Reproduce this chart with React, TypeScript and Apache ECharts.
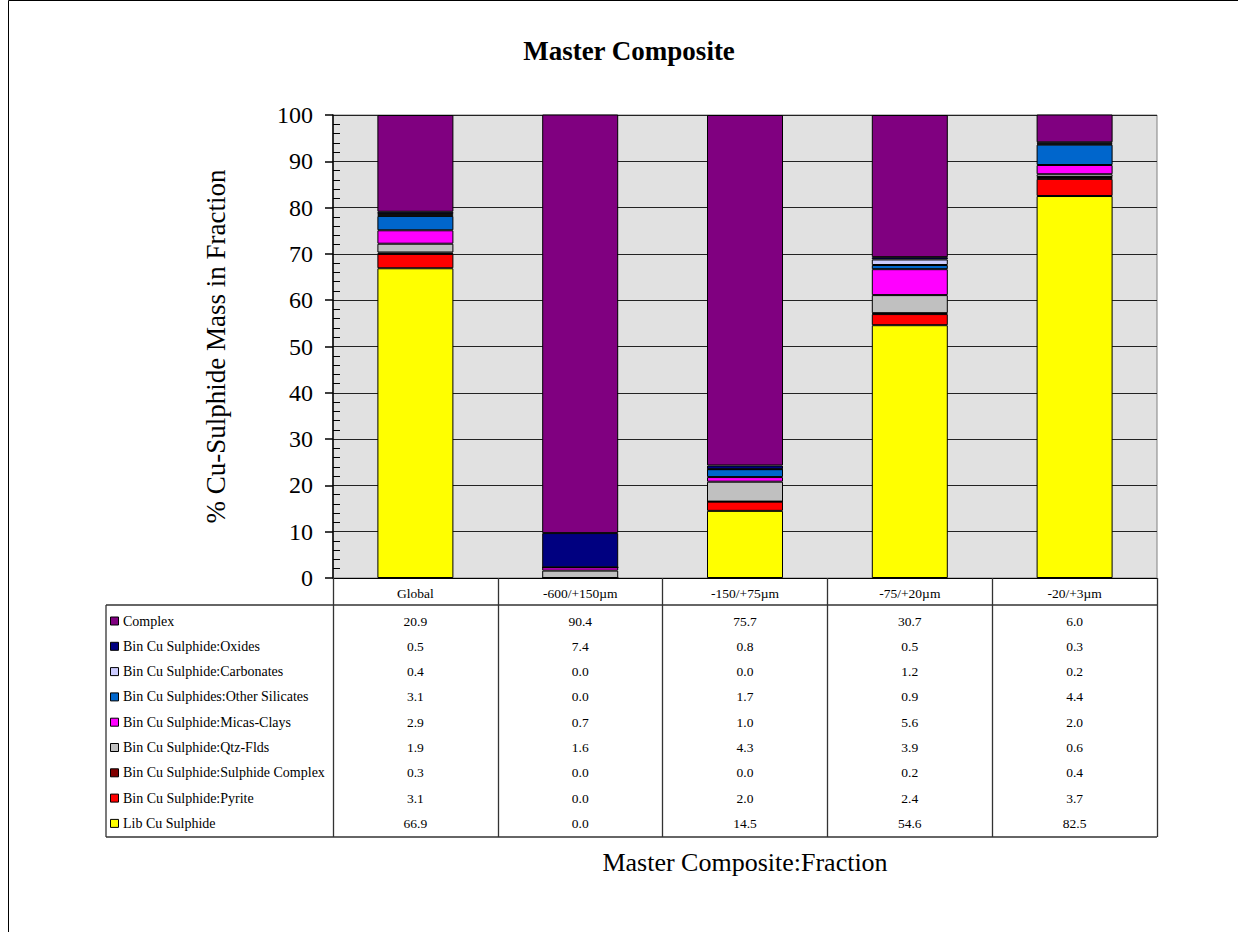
import React, { useEffect, useRef } from "react";
import * as echarts from "echarts";

const categories = ["Global", "-600/+150µm", "-150/+75µm", "-75/+20µm", "-20/+3µm"];
const yTicks = { min: 0, max: 100, interval: 10 };

// bottom-to-top stacking order
const libCuSulphide = [66.9, 0.0, 14.5, 54.6, 82.5];
const pyrite = [3.1, 0.0, 2.0, 2.4, 3.7];
const sulphideComplex = [0.3, 0.0, 0.0, 0.2, 0.4];
const qtzFlds = [1.9, 1.6, 4.3, 3.9, 0.6];
const micasClays = [2.9, 0.7, 1.0, 5.6, 2.0];
const otherSilicates = [3.1, 0.0, 1.7, 0.9, 4.4];
const carbonates = [0.4, 0.0, 0.0, 1.2, 0.2];
const oxides = [0.5, 7.4, 0.8, 0.5, 0.3];
const complex = [20.9, 90.4, 75.7, 30.7, 6.0];

const seriesList = [
  { name: "Lib Cu Sulphide", data: libCuSulphide, color: "#FFFF00" },
  { name: "Bin Cu Sulphide:Pyrite", data: pyrite, color: "#FF0000" },
  { name: "Bin Cu Sulphide:Sulphide Complex", data: sulphideComplex, color: "#800000" },
  { name: "Bin Cu Sulphide:Qtz-Flds", data: qtzFlds, color: "#C0C0C0" },
  { name: "Bin Cu Sulphide:Micas-Clays", data: micasClays, color: "#FF00FF" },
  { name: "Bin Cu Sulphides:Other Silicates", data: otherSilicates, color: "#0066CC" },
  { name: "Bin Cu Sulphide:Carbonates", data: carbonates, color: "#CCCCFF" },
  { name: "Bin Cu Sulphide:Oxides", data: oxides, color: "#000080" },
  { name: "Complex", data: complex, color: "#800080" },
];

const FONT = "'Liberation Serif', 'Times New Roman', serif";

export default function App() {
  const ref = useRef<HTMLDivElement>(null);
  useEffect(() => {
    if (!ref.current) return;
    const chart = echarts.init(ref.current, undefined, { renderer: "svg" });

    const gridLeft = 333, gridRight = 1157, gridTop = 115, gridBottom = 578;
    const W = 1238, H = 932;
    const colW = (gridRight - gridLeft) / categories.length;
    const headerBottom = 605;
    const rowH = 25.3;
    const firstRowY = 621;
    const tableBottom = 837;
    const tableLeft = 106;

    const graphics: any[] = [];
    // outer frame (left & top visible)
    graphics.push({ type: "line", shape: { x1: 8.5, y1: 0.5, x2: 8.5, y2: H }, style: { stroke: "#000", lineWidth: 1 } });
    graphics.push({ type: "line", shape: { x1: 8.5, y1: 0.5, x2: W, y2: 0.5 }, style: { stroke: "#000", lineWidth: 1 } });
    // table lines
    graphics.push({ type: "line", shape: { x1: tableLeft, y1: headerBottom, x2: gridRight, y2: headerBottom }, style: { stroke: "#333", lineWidth: 1.3 } });
    graphics.push({ type: "line", shape: { x1: tableLeft, y1: tableBottom, x2: gridRight, y2: tableBottom }, style: { stroke: "#333", lineWidth: 1.3 } });
    graphics.push({ type: "line", shape: { x1: tableLeft, y1: headerBottom, x2: tableLeft, y2: tableBottom }, style: { stroke: "#333", lineWidth: 1.3 } });

    const rows = [...seriesList].reverse();
    rows.forEach((s, r) => {
      const y = firstRowY + r * rowH;
      graphics.push({
        type: "rect",
        shape: { x: 110.5, y: y - 4, width: 8, height: 8 },
        style: { fill: s.color, stroke: "#000", lineWidth: 1 },
      });
      graphics.push({
        type: "text",
        x: 123,
        y,
        style: { text: s.name, font: `14px ${FONT}`, fill: "#000", textVerticalAlign: "middle", verticalAlign: "middle" },
      });
      s.data.forEach((v, c) => {
        graphics.push({
          type: "text",
          x: gridLeft + colW * (c + 0.5),
          y,
          style: {
            text: v.toFixed(1),
            font: `13.5px ${FONT}`,
            fill: "#000",
            align: "center",
            textAlign: "center",
            verticalAlign: "middle",
            textVerticalAlign: "middle",
          },
        });
      });
    });

    chart.setOption({
      animation: false,
      backgroundColor: "#fff",
      title: {
        text: "Master Composite",
        left: 624,
        textAlign: "center",
        top: 32,
        textStyle: { fontFamily: FONT, fontSize: 27, fontWeight: "bold", color: "#000" },
      },
      grid: {
        left: gridLeft,
        right: W - gridRight,
        top: gridTop,
        bottom: H - gridBottom,
        show: true,
        backgroundColor: "#e1e1e1",
        borderColor: "#808080",
        borderWidth: 1,
      },
      xAxis: {
        type: "category",
        data: categories,
        boundaryGap: true,
        name: "Master Composite:Fraction",
        nameLocation: "middle",
        nameGap: 271,
        nameTextStyle: { fontFamily: FONT, fontSize: 26, color: "#000" },
        axisLine: { show: true, lineStyle: { color: "#000", width: 1 } },
        axisTick: { show: true, alignWithLabel: false, length: tableBottom - gridBottom, lineStyle: { color: "#333", width: 1.3 } },
        axisLabel: { fontFamily: FONT, fontSize: 13.5, color: "#000", margin: 8 },
        splitLine: { show: false },
      },
      yAxis: [
        {
          type: "value",
          min: yTicks.min,
          max: yTicks.max,
          interval: yTicks.interval,
          name: "% Cu-Sulphide Mass in Fraction",
          nameLocation: "middle",
          nameGap: 104,
          nameTextStyle: { fontFamily: FONT, fontSize: 27, color: "#000" },
          axisLine: { show: true, lineStyle: { color: "#000", width: 1.5 } },
          axisTick: { show: true, inside: false, length: 8, lineStyle: { color: "#000", width: 1.5 } },
          axisLabel: { fontFamily: FONT, fontSize: 24, color: "#000", margin: 20 },
          splitLine: { show: true, lineStyle: { color: "#222", width: 1 } },
        },
        {
          type: "value",
          min: yTicks.min,
          max: yTicks.max,
          interval: yTicks.interval,
          position: "left",
          axisLine: { show: false },
          axisTick: { show: false, inside: true },
          axisLabel: { show: false },
          splitLine: { show: false },
          minorTick: { show: true, splitNumber: 5, length: 7, lineStyle: { color: "#000", width: 1 } },
        },
      ],
      series: seriesList.map((s) => ({
        name: s.name,
        type: "bar",
        stack: "total",
        data: s.data,
        barWidth: 76,
        itemStyle: { color: s.color, borderColor: "#000", borderWidth: 1 },
      })),
      graphic: graphics,
    });
    return () => chart.dispose();
  }, []);
  return (
    <div
      ref={ref}
      style={{ position: "fixed", left: 0, top: 0, width: 1238, height: 932 }}
    />
  );
}
